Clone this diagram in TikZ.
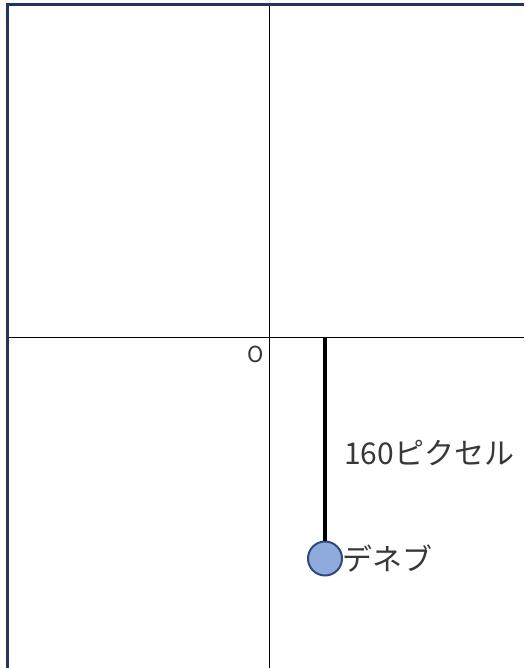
\documentclass[tikz,border=0pt]{standalone}
\usepackage{fontspec}
\newfontfamily\jp{Noto Sans CJK JP}
\begin{document}
\begin{tikzpicture}[x=1pt,y=-1pt,
  frame/.style={draw=navy,line width=3pt},
  axis/.style={draw=black,line width=1pt},
  rod/.style={draw=black,line width=4pt},
  star/.style={circle,draw=starline,fill=starfill,line width=2pt,minimum size=34pt,inner sep=0pt},
  lbl/.style={font=\jp\fontsize{30}{32}\selectfont,inner sep=0pt,anchor=west,text=black!78}]
\definecolor{navy}{HTML}{1F3560}
\definecolor{starfill}{HTML}{8FAADC}
\definecolor{starline}{HTML}{2F4A7A}
\useasboundingbox (0,0) rectangle (524,668);
\fill[white] (0,0) rectangle (524,668);
\coordinate (tl) at (7,5);
\coordinate (tr) at (524,5);
\coordinate (bl) at (7,668);
\coordinate (vt) at (269,5);
\coordinate (vb) at (269,668);
\coordinate (hl) at (7,337.5);
\coordinate (hr) at (524,337.5);
\coordinate (rt) at (325,338);
\draw[axis] (vt) -- (vb);
\draw[axis] (hl) -- (hr);
\draw[frame] (bl) -- (tl) -- (tr);
\node[star] (deneb) at (325,558.5) {};
\draw[rod] (rt) -- (deneb.north);
\node[font=\jp\fontsize{22}{24}\selectfont,inner sep=0pt,text=black!78] (o) at (256,354) {O};
\node[lbl] (dist) at (344,453) {160ピクセル};
\node[lbl] (name) at (342,558) {デネブ};
\end{tikzpicture}
\end{document}
